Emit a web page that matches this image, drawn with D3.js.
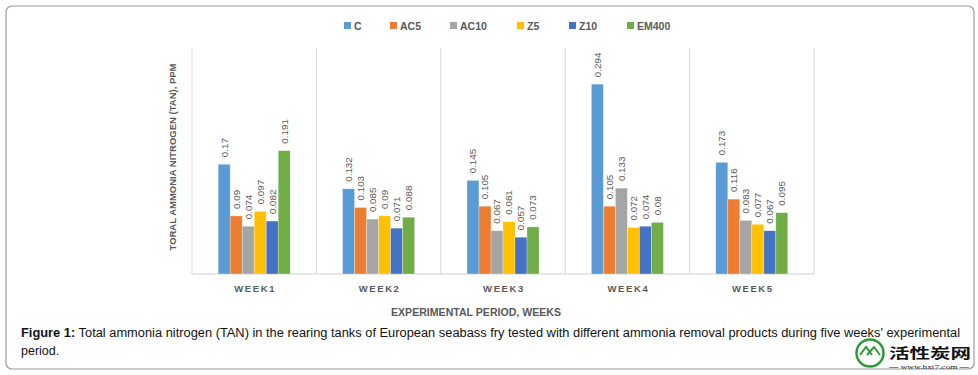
<!DOCTYPE html>
<html><head><meta charset="utf-8">
<script src="https://cdn.jsdelivr.net/npm/d3@7"></script>
<style>body{margin:0;background:#fff}svg{display:block}</style>
</head><body>
<svg id="c" width="978" height="375"></svg>
<script>
const weeks = ["WEEK1","WEEK2","WEEK3","WEEK4","WEEK5"];
const series = ["C","AC5","AC10","Z5","Z10","EM400"];
const colors = ["#5B9BD5","#ED7D31","#A5A5A5","#FFC000","#4472C4","#70AD47"];
const C_vals    = [0.17, 0.132, 0.145, 0.294, 0.173];
const AC5_vals  = [0.09, 0.103, 0.105, 0.105, 0.116];
const AC10_vals = [0.074, 0.085, 0.067, 0.133, 0.083];
const Z5_vals   = [0.097, 0.09, 0.081, 0.072, 0.077];
const Z10_vals  = [0.082, 0.071, 0.057, 0.074, 0.067];
const EM400_vals= [0.191, 0.088, 0.073, 0.08, 0.095];
const allVals = [C_vals, AC5_vals, AC10_vals, Z5_vals, Z10_vals, EM400_vals];
const yTitle = "TORAL AMMONIA NITROGEN (TAN), PPM";
const xTitle = "EXPERIMENTAL PERIOD,  WEEKS";
const captionBold = "Figure 1:";
const captionRest = " Total ammonia nitrogen (TAN) in the rearing tanks of European seabass fry tested with different ammonia removal products during five weeks' experimental";
const captionLine2 = "period.";

const svg = d3.select("#c");
const grey = "#595959";

svg.append("rect").attr("x",6).attr("y",6).attr("width",968).attr("height",363)
  .attr("rx",6).attr("fill","#fff").attr("stroke","#9a9a9a").attr("stroke-width",1.2);

const x0 = d3.scaleBand().domain(weeks).range([192,814]).padding(0);
const x1 = d3.scaleBand().domain(series).range([0,x0.bandwidth()]).paddingInner(0).paddingOuter(2.18);
const y = d3.scaleLinear().domain([0,0.35]).range([274,48]);

const bounds = weeks.map(w=>x0(w)).concat([x0.range()[1]]);
svg.append("g").selectAll("line").data(bounds).join("line")
  .attr("x1",d=>d).attr("x2",d=>d).attr("y1",y(0.35)).attr("y2",y(0))
  .attr("stroke","#d9d9d9").attr("stroke-width",1);
svg.append("line").attr("x1",192).attr("x2",814).attr("y1",y(0)).attr("y2",y(0))
  .attr("stroke","#d0d0d0").attr("stroke-width",1.2);

const data = [];
weeks.forEach((w,i)=>series.forEach((s,j)=>data.push({w,s,j,v:allVals[j][i]})));
const g = svg.append("g");
g.selectAll("rect").data(data).join("rect")
  .attr("x",d=>x0(d.w)+x1(d.s))
  .attr("y",d=>y(d.v))
  .attr("width",x1.bandwidth())
  .attr("height",d=>y(0)-y(d.v))
  .attr("fill",d=>colors[d.j])
  .attr("stroke","#ffffff").attr("stroke-opacity",0.5).attr("stroke-width",0.6);

g.selectAll("text").data(data).join("text")
  .attr("transform",d=>`translate(${x0(d.w)+x1(d.s)+x1.bandwidth()/2},${y(d.v)-7}) rotate(-90)`)
  .attr("dy","0.35em")
  .attr("font-family","Liberation Sans, Arial, sans-serif")
  .attr("font-size",9.8).attr("fill",grey)
  .text(d=>String(d.v));

svg.append("g").selectAll("text").data(weeks).join("text")
  .attr("x",d=>x0(d)+x0.bandwidth()/2+1).attr("y",292)
  .attr("text-anchor","middle")
  .attr("font-family","Liberation Sans, Arial, sans-serif")
  .attr("font-weight","bold").attr("font-size",9.5).attr("letter-spacing","1.6px")
  .attr("fill",grey).text(d=>d);

svg.append("text").attr("x",476).attr("y",316).attr("text-anchor","middle")
  .attr("font-family","Liberation Sans, Arial, sans-serif").attr("font-weight","bold")
  .attr("font-size",10).attr("fill",grey)
  .attr("textLength",170).attr("lengthAdjust","spacingAndGlyphs").text(xTitle);
svg.append("text").attr("transform","translate(176,157) rotate(-90)").attr("text-anchor","middle")
  .attr("font-family","Liberation Sans, Arial, sans-serif").attr("font-weight","bold")
  .attr("font-size",9.5).attr("fill",grey)
  .attr("textLength",187).attr("lengthAdjust","spacingAndGlyphs").text(yTitle);

const legX = [344,390,450,517,569,627];
const leg = svg.append("g").selectAll("g").data(series).join("g")
  .attr("transform",(d,i)=>`translate(${legX[i]},22)`);
leg.append("rect").attr("width",7).attr("height",7).attr("fill",(d,i)=>colors[i]);
leg.append("text").attr("x",10).attr("y",7.5)
  .attr("font-family","Liberation Sans, Arial, sans-serif").attr("font-weight","bold")
  .attr("font-size",10.5).attr("fill",grey).text(d=>d);

const cap = svg.append("text").attr("x",21).attr("y",337)
  .attr("font-family","Liberation Sans, Arial, sans-serif").attr("font-size",12.5).attr("fill","#111")
  .attr("textLength",939).attr("lengthAdjust","spacingAndGlyphs");
cap.append("tspan").attr("font-weight","bold").text(captionBold);
cap.append("tspan").text(captionRest);
svg.append("text").attr("x",21).attr("y",355)
  .attr("font-family","Liberation Sans, Arial, sans-serif").attr("font-size",12.5).attr("fill","#111")
  .text(captionLine2);

// watermark
const wm = svg.append("g");
wm.append("circle").attr("cx",870).attr("cy",353).attr("r",13.5).attr("fill","#fff")
  .attr("stroke","#2e9a3a").attr("stroke-width",2.5);
wm.append("path").attr("d","M860,355 L866,347 L872,355 M867,355 L874,347 L880,355")
  .attr("fill","none").attr("stroke","#2e9a3a").attr("stroke-width",2);
wm.append("text").attr("x",889).attr("y",358).attr("font-family","Noto Sans CJK SC")
  .attr("font-weight","bold").attr("font-size",14).attr("fill","#111")
  .attr("textLength",82).attr("lengthAdjust","spacingAndGlyphs").text("活性炭网");
wm.append("text").attr("x",889).attr("y",368.5).attr("font-family","Liberation Serif, serif")
  .attr("font-size",6).attr("fill","#222")
  .attr("textLength",80).attr("lengthAdjust","spacingAndGlyphs").text("— www.hxt7.com —");
</script>
</body></html>
